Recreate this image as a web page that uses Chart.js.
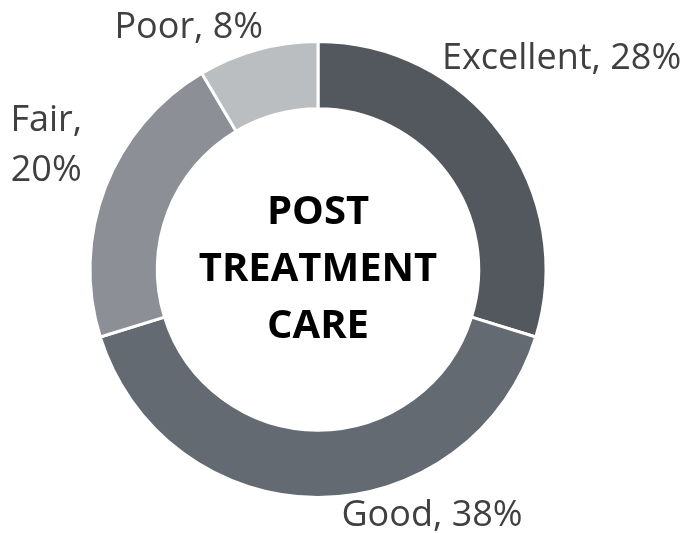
<!DOCTYPE html>
<html>
<head>
<meta charset="utf-8">
<script src="https://cdn.jsdelivr.net/npm/chart.js@4"></script>
<style>
  html, body { margin: 0; padding: 0; background: #ffffff; }
  #wrap { width: 690px; height: 533px; }
</style>
</head>
<body>
<div id="wrap"><canvas id="careChart" width="690" height="533"></canvas></div>
<script>
// Data
var categories = ['Excellent', 'Good', 'Fair', 'Poor'];
var ratings = [28, 38, 20, 8];
var sliceColors = ['#52585e', '#646a71', '#8c9096', '#bbbec1'];
var centerLines = ['POST', 'TREATMENT', 'CARE'];

// Where each outside label sits, relative to the middle of its slice edge
var labelNudge = [
    { dx: 60, dy: -76, wrap: false },
    { dx: 114, dy: 18, wrap: false },
    { dx: -59, dy: -42, wrap: true },
    { dx: -69, dy: -22, wrap: false }
];

// Draws the outside labels and the text in the hole
var doughnutText = {
    id: 'doughnutText',
    afterDraw: function (chart) {
        var ctx = chart.ctx;
        var meta = chart.getDatasetMeta(0);
        ctx.save();
        ctx.textAlign = 'center';
        ctx.textBaseline = 'middle';

        ctx.fillStyle = '#404040';
        ctx.font = '36px "Open Sans"';
        meta.data.forEach(function (arc, i) {
            var p = arc.getProps(['x', 'y', 'startAngle', 'endAngle', 'outerRadius'], true);
            var mid = (p.startAngle + p.endAngle) / 2;
            var ax = p.x + Math.cos(mid) * p.outerRadius + labelNudge[i].dx;
            var ay = p.y + Math.sin(mid) * p.outerRadius + labelNudge[i].dy;
            var lines = labelNudge[i].wrap
                ? [categories[i] + ',', ratings[i] + '%']
                : [categories[i] + ', ' + ratings[i] + '%'];
            var lh = 50;
            lines.forEach(function (t, k) {
                ctx.fillText(t, ax, ay + (k - (lines.length - 1) / 2) * lh);
            });
        });

        // centre title
        var c = meta.data[0].getProps(['x', 'y'], true);
        ctx.fillStyle = '#000000';
        ctx.font = 'bold 40px "Open Sans"';
        var gap = 57;
        centerLines.forEach(function (t, k) {
            ctx.fillText(t, c.x, c.y + (k - 1) * gap);
        });
        ctx.restore();
    }
};

var careChart = new Chart(document.getElementById('careChart'), {
    type: 'doughnut',
    data: {
        labels: categories,
        datasets: [{
            data: ratings,
            backgroundColor: sliceColors,
            borderColor: '#ffffff',
            borderWidth: 3,
            hoverOffset: 0
        }]
    },
    options: {
        responsive: false,
        devicePixelRatio: 1,
        animation: false,
        cutout: '70.5%',
        layout: { padding: { left: 88, right: 142, top: 40, bottom: 34 } },
        plugins: {
            legend: { display: false },
            tooltip: { enabled: false }
        }
    },
    plugins: [doughnutText]
});
</script>
</body>
</html>
